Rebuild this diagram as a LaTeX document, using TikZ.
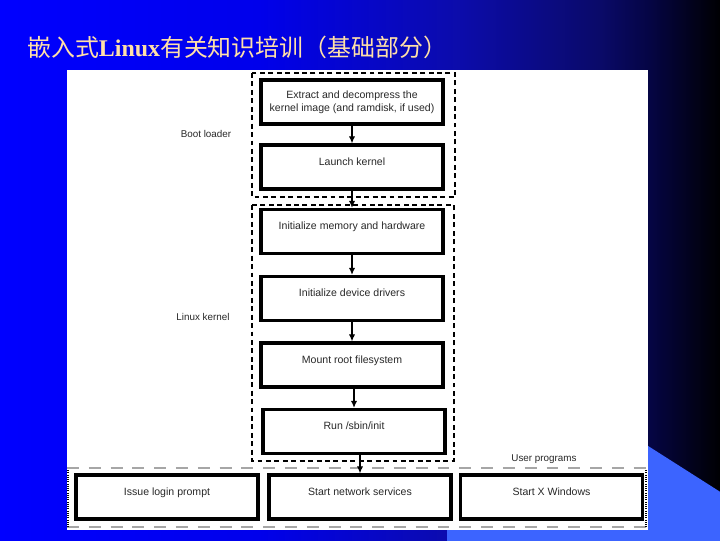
\documentclass[tikz,border=0pt]{standalone}
\usepackage{fontspec}
\setmainfont{Liberation Sans}
\newfontfamily\titleserif{Liberation Serif}
\newfontfamily\cjk{Noto Sans CJK SC}
\usepackage{xcolor}
\definecolor{sA}{RGB}{0,0,255}
\definecolor{sB}{RGB}{0,0,235}
\definecolor{sC}{RGB}{12,12,170}
\definecolor{sD}{RGB}{10,10,105}
\definecolor{sE}{RGB}{5,5,68}
\definecolor{cLight}{RGB}{60,100,255}
\definecolor{cTitle}{RGB}{255,224,168}
\definecolor{cText}{RGB}{40,40,40}
\usetikzlibrary{arrows.meta, positioning, calc}
\pgfdeclarehorizontalshading{slideshade}{100bp}{color(0bp)=(sA); color(25bp)=(sA);
  color(43bp)=(sB); color(57bp)=(sC); color(66.5bp)=(sD); color(70bp)=(sE);
  color(75bp)=(black); color(100bp)=(black)}

\begin{document}
\begin{tikzpicture}[x=0.025cm, y=-0.025cm,
    stepbox/.style={draw=black, line width=2.3pt, fill=white, minimum width=4.55cm,
      minimum height=1.1cm, align=center, text=cText, font=\fontsize{7.5}{9.2}\selectfont},
    liftbox/.style={stepbox, text depth=8pt},
    groupline/.style={line width=1.4pt, dash pattern=on 3.5pt off 2.5pt},
    userline/.style={gray!70, line width=0.8pt, dash pattern=on 8.5pt off 7pt},
    hatchline/.style={line width=2pt, dash pattern=on 0.8pt off 0.8pt},
    flow/.style={line width=0.9pt, -{Latex[length=5pt,width=4.5pt]}},
    lbl/.style={text=cText, font=\fontsize{7}{8}\selectfont, inner sep=0pt}]
    \useasboundingbox (0,0) rectangle (720,540);

    % ---------- slide ----------
    \shade[shading=slideshade] (-2,-2) rectangle (722,542);
    \fill[cLight] (447,542) -- (447,318) -- (722,493) -- (722,542) -- cycle;
    \fill[white] (67,70) rectangle (648,530);
    \node[anchor=west, inner sep=0pt, text=cTitle, font=\fontsize{17}{19}\selectfont] (title) at (27,47)
      {{\cjk 嵌入式}{\titleserif\bfseries Linux}{\cjk 有关知识培训（基础部分）}};

    % ---------- stages ----------
    \draw[groupline] (252,73) rectangle (455,197);
    \draw[groupline] (252,205) rectangle (454,461);
    \draw[userline] (67,468) -- (648,468);
    \draw[userline] (67,527) -- (648,527);
    \draw[hatchline] (68,470) -- (68,528);
    \draw[hatchline] (646,470) -- (646,528);

    \node[lbl] (bootlbl) at (206,134) {Boot loader};
    \node[lbl] (kernellbl) at (203,317) {Linux kernel};
    \node[lbl] (userlbl) at (544,459) {User programs};

    % ---------- boxes ----------
    \node[stepbox] (extract) at (352,102) {Extract and decompress the\\kernel image (and ramdisk, if used)};
    \node[liftbox] (launch) at (352,167) {Launch kernel};
    \node[liftbox] (initmem) at (352,231.5) {Initialize memory and hardware};
    \node[liftbox] (initdrv) at (352,298.5) {Initialize device drivers};
    \node[liftbox] (mount) at (352,365) {Mount root filesystem};
    \node[liftbox] (run) at (354,431.5) {Run /sbin/init};
    \node[liftbox] (login) at (167,497) {Issue login prompt};
    \node[liftbox] (network) at (360,497) {Start network services};
    \node[liftbox] (xwin) at (551.5,497) {Start X Windows};

    % ---------- arrows ----------
    \draw[flow] (extract) -- (launch);
    \draw[flow] (launch) -- (initmem);
    \draw[flow] (initmem) -- (initdrv);
    \draw[flow] (initdrv) -- (mount);
    \draw[flow] (mount.south -| run.north) -- (run.north);
    \draw[flow] (run.south -| network.north) -- (network.north);

\end{tikzpicture}
\end{document}
